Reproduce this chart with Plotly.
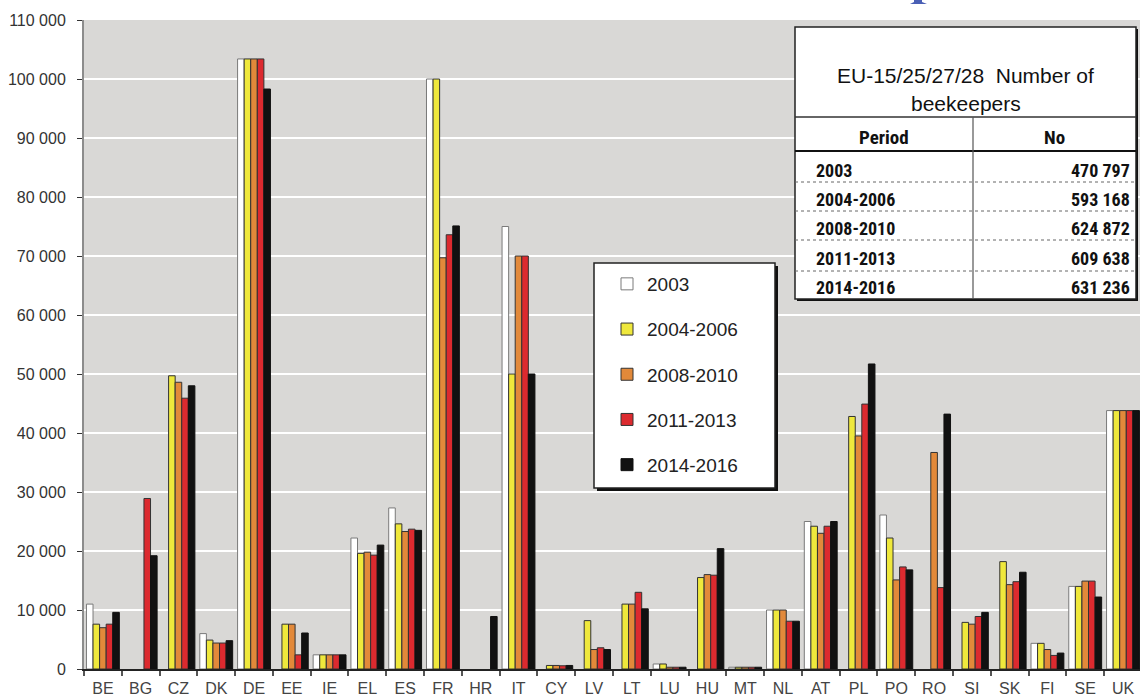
import plotly.graph_objects as go

# ---------------- data ----------------
countries = ["BE", "BG", "CZ", "DK", "DE", "EE", "IE", "EL", "ES", "FR", "HR", "IT", "CY", "LV",
             "LT", "LU", "HU", "MT", "NL", "AT", "PL", "PO", "RO", "SI", "SK", "FI", "SE", "UK"]

series_names = ["2003", "2004-2006", "2008-2010", "2011-2013", "2014-2016"]

s2003 = [11000, None, None, 6000, 103400, None, 2400, 22200, 27300, 100000, None, 75000, None, None,
         None, 850, None, 300, 10000, 25000, None, 26100, None, None, None, 4350, 14000, 43800]
s2004_2006 = [7600, None, 49700, 4900, 103400, 7600, 2400, 19600, 24600, 100000, None, 50000, 600, 8200,
              11000, 850, 15500, 300, 10000, 24200, 42800, 22200, None, 7900, 18200, 4350, 14000, 43800]
s2008_2010 = [7000, None, 48600, 4400, 103400, 7600, 2400, 19800, 23300, 69700, None, 70000, 600, 3300,
              11000, 300, 16000, 300, 10000, 23000, 39500, 15100, 36700, 7600, 14300, 3300, 14900, 43800]
s2011_2013 = [7600, 28900, 45900, 4400, 103400, 2400, 2400, 19300, 23700, 73600, None, 70000, 550, 3600,
              13000, 300, 15900, 300, 8100, 24200, 44900, 17300, 13800, 8900, 14800, 2300, 14900, 43800]
s2014_2016 = [9600, 19200, 48000, 4800, 98300, 6100, 2400, 21000, 23500, 75100, 8900, 50000, 600, 3300,
              10200, 300, 20400, 300, 8100, 25000, 51700, 16800, 43200, 9600, 16400, 2700, 12200, 43800]

table_title = ["EU-15/25/27/28  Number of", "beekeepers"]
table_header = ["Period", "No"]
table_periods = ["2003", "2004-2006", "2008-2010", "2011-2013", "2014-2016"]
table_totals = ["470 797", "593 168", "624 872", "609 638", "631 236"]

# ---------------- styling ----------------
fill_colors = ["#ffffff", "#efe83c", "#e2893a", "#dc2a2f", "#111111"]
line_colors = ["#7a7a7a", "#333333", "#333333", "#333333", "#111111"]

W, H = 1140, 697
ML, MR, MT, MB = 84, 0, 20, 28
PW, PH = W - ML - MR, H - MT - MB


def X(px):
    return (px - ML) / PW


def Y(py):
    return (H - MB - py) / PH


font_main = "Liberation Sans, Arial, sans-serif"
font_narrow = "Liberation Sans Narrow, Arial Narrow, Roboto Condensed, Liberation Sans, Arial, sans-serif"

fig = go.Figure()
all_series = [s2003, s2004_2006, s2008_2010, s2011_2013, s2014_2016]
for i, (name, vals) in enumerate(zip(series_names, all_series)):
    fig.add_trace(go.Bar(
        x=countries, y=vals, name=name, legendgroup=name,
        marker=dict(color=fill_colors[i], line=dict(color=line_colors[i], width=1)),
    ))

shapes = []
annotations = []

# legend box (with shadow)
shapes.append(dict(type="rect", xref="paper", yref="paper", x0=X(597), x1=X(778), y0=Y(266), y1=Y(491),
                   fillcolor="#111111", line=dict(width=0), layer="above"))
shapes.append(dict(type="rect", xref="paper", yref="paper", x0=X(594), x1=X(775), y0=Y(263), y1=Y(488),
                   fillcolor="#ffffff", line=dict(color="#222222", width=1.5), layer="above"))

# table box (with shadow)
tl, tr, tt, tb = 795, 1136, 27, 299
shapes.append(dict(type="rect", xref="paper", yref="paper", x0=X(tl + 2), x1=X(tr + 2), y0=Y(tt + 2), y1=Y(tb + 2),
                   fillcolor="#111111", line=dict(width=0), layer="above"))
shapes.append(dict(type="rect", xref="paper", yref="paper", x0=X(tl), x1=X(tr), y0=Y(tt), y1=Y(tb),
                   fillcolor="#ffffff", line=dict(color="#222222", width=1.5), layer="above"))
col_x = 973
title_bottom = 117
header_bottom = 151
row_lines = [182, 211, 240, 271]
shapes.append(dict(type="line", xref="paper", yref="paper", x0=X(tl), x1=X(tr), y0=Y(title_bottom), y1=Y(title_bottom),
                   line=dict(color="#333333", width=1.5), layer="above"))
shapes.append(dict(type="line", xref="paper", yref="paper", x0=X(tl), x1=X(tr), y0=Y(header_bottom), y1=Y(header_bottom),
                   line=dict(color="#111111", width=2), layer="above"))
shapes.append(dict(type="line", xref="paper", yref="paper", x0=X(col_x), x1=X(col_x), y0=Y(title_bottom), y1=Y(tb),
                   line=dict(color="#555555", width=1.2), layer="above"))
for ry in row_lines:
    shapes.append(dict(type="line", xref="paper", yref="paper", x0=X(tl), x1=X(tr), y0=Y(ry), y1=Y(ry),
                       line=dict(color="#666666", width=1, dash="dot"), layer="above"))

# tiny blue glyph remnant at the very top
shapes.append(dict(type="path", xref="paper", yref="paper",
                   path="M {a},{t} L {b},{t} L {c},{m} L {d},{btm} L {e},{btm} L {f},{m} Z".format(
                       a=X(914), b=X(922), c=X(922), d=X(927), e=X(910), f=X(914), t=Y(-1), m=Y(2), btm=Y(4)),
                   fillcolor="#4a5fb5", line=dict(width=0), layer="above"))

# table texts
annotations.append(dict(xref="paper", yref="paper", x=X((tl + tr) / 2), y=Y(75), text=table_title[0],
                        showarrow=False, xanchor="center", yanchor="middle",
                        font=dict(family=font_main, size=21, color="#111111")))
annotations.append(dict(xref="paper", yref="paper", x=X((tl + tr) / 2), y=Y(103), text=table_title[1],
                        showarrow=False, xanchor="center", yanchor="middle",
                        font=dict(family=font_main, size=21, color="#111111")))
annotations.append(dict(xref="paper", yref="paper", x=X((tl + col_x) / 2), y=Y(137), text="<b>" + table_header[0] + "</b>",
                        showarrow=False, xanchor="center", yanchor="middle",
                        font=dict(family=font_narrow, size=19, color="#111111")))
annotations.append(dict(xref="paper", yref="paper", x=X((col_x + tr) / 2), y=Y(137), text="<b>" + table_header[1] + "</b>",
                        showarrow=False, xanchor="center", yanchor="middle",
                        font=dict(family=font_narrow, size=19, color="#111111")))
row_y = [170, 199, 228, 258, 287]
for ry, per, tot in zip(row_y, table_periods, table_totals):
    annotations.append(dict(xref="paper", yref="paper", x=X(814), y=Y(ry), text="<b>" + per + "</b>",
                            showarrow=False, xanchor="left", yanchor="middle",
                            font=dict(family=font_narrow, size=18, color="#111111")))
    annotations.append(dict(xref="paper", yref="paper", x=X(1132), y=Y(ry), text="<b>" + tot + "</b>",
                            showarrow=False, xanchor="right", yanchor="middle",
                            font=dict(family=font_narrow, size=18, color="#111111")))

fig.update_layout(
    width=W, height=H,
    margin=dict(l=ML, r=MR, t=MT, b=MB, pad=0),
    paper_bgcolor="#ffffff",
    plot_bgcolor="#d9d8d6",
    barmode="group",
    bargap=0.13,
    bargroupgap=0,
    separators=". ",
    font=dict(family=font_main, color="#333333"),
    shapes=shapes,
    annotations=annotations,
    legend=dict(
        x=X(607), y=Y(265), xanchor="left", yanchor="top",
        bgcolor="rgba(0,0,0,0)", borderwidth=0,
        font=dict(family=font_main, size=19, color="#222222"),
        tracegroupgap=17.5, traceorder="grouped",
    ),
    xaxis=dict(
        type="category", range=[-0.5, 27.45],
        tickson="boundaries", ticks="outside", ticklen=5, tickcolor="#555555", tickwidth=1.5,
        showline=True, linecolor="#222222", linewidth=2,
        showgrid=False,
        tickfont=dict(family=font_main, size=16, color="#444444"),
        ticklabelstandoff=4,
    ),
    yaxis=dict(
        range=[0, 110000], dtick=10000, tickformat=",d",
        showgrid=True, gridcolor="#ffffff", gridwidth=2,
        zeroline=False,
        showline=True, linecolor="#8c8c8c", linewidth=2,
        ticks="outside", ticklen=5, tickcolor="#333333",
        tickfont=dict(family=font_main, size=16, color="#333333"),
        ticklabelstandoff=8,
    ),
)

fig.write_html("out.html")
